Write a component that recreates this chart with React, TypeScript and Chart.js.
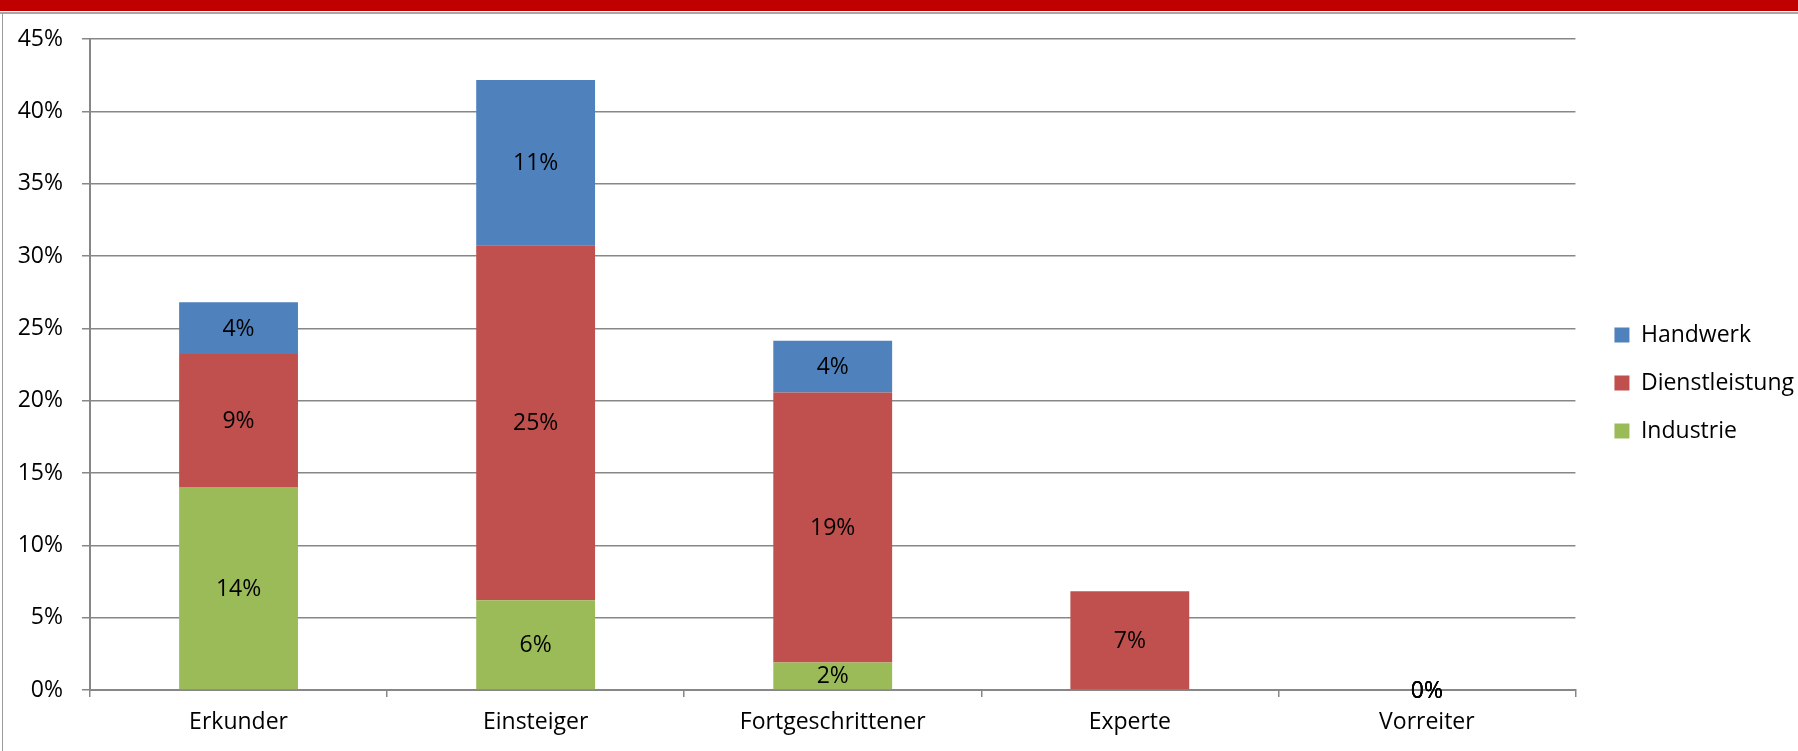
import React, { useEffect, useRef } from "react";
import { Chart, registerables } from "chart.js";

Chart.register(...registerables);

const categories = ["Erkunder", "Einsteiger", "Fortgeschrittener", "Experte", "Vorreiter"];
const industrie: (number | null)[] = [14.03, 6.2, 1.9, null, 0];
const dienstleistung: (number | null)[] = [9.19, 24.55, 18.67, 6.83, 0];
const handwerk: (number | null)[] = [3.58, 11.41, 3.57, null, 0];
const yTicks = [0, 5, 10, 15, 20, 25, 30, 35, 40, 45];

const FONT = "'Open Sans', 'Noto Sans', sans-serif";
const FS = 23;

const dataLabels = {
  id: "dataLabels",
  afterDatasetsDraw(chart: any) {
    const ctx = chart.ctx;
    ctx.save();
    ctx.font = `${FS}px ${FONT}`;
    ctx.fillStyle = "#000000";
    ctx.textAlign = "center";
    ctx.textBaseline = "middle";
    chart.data.datasets.forEach((ds: any, di: number) => {
      const meta = chart.getDatasetMeta(di);
      meta.data.forEach((el: any, i: number) => {
        const v = ds.data[i];
        if (v === null || v === undefined) return;
        const { x, y, base } = el.getProps(["x", "y", "base"], true);
        ctx.fillText(Math.round(v) + "%", x, (y + base) / 2 + 1);
      });
    });
    ctx.restore();
  },
};

export default function App() {
  const ref = useRef<HTMLCanvasElement | null>(null);

  useEffect(() => {
    document.body.style.margin = "0";
    document.body.style.overflow = "hidden";
    if (!ref.current) return;
    const chart = new Chart(ref.current, {
      type: "bar",
      data: {
        labels: categories,
        datasets: [
          { label: "Industrie", data: industrie, backgroundColor: "#9BBB59" },
          { label: "Dienstleistung", data: dienstleistung, backgroundColor: "#C0504D" },
          { label: "Handwerk", data: handwerk, backgroundColor: "#4F81BD" },
        ],
      },
      options: {
        responsive: false,
        animation: false,
        devicePixelRatio: 1,
        layout: { padding: { top: 1, bottom: 0, left: 0, right: -6 } },
        datasets: {
          bar: { categoryPercentage: 1, barPercentage: 0.4 },
        },
        plugins: {
          tooltip: { enabled: false },
          legend: {
            position: "right",
            reverse: true,
            labels: {
              boxWidth: 15,
              boxHeight: 15,
              padding: 25,
              color: "#000000",
              font: { family: FONT, size: FS },
            },
          },
        },
        scales: {
          x: {
            stacked: true,
            grid: {
              drawOnChartArea: false,
              drawTicks: true,
              tickLength: 7,
              color: "#878787",
              lineWidth: 1.5,
              offset: true,
            },
            border: { color: "#878787", width: 2 },
            ticks: {
              color: "#000000",
              font: { family: FONT, size: FS },
              padding: 12,
              maxRotation: 0,
            },
            afterFit: (s: any) => {
              s.height = 61;
            },
          },
          x2: {
            type: "category",
            position: "top",
            display: true,
            grid: { display: false },
            border: { display: false },
            ticks: { display: false },
            afterFit: (s: any) => {
              s.height = 24;
            },
          },
          y: {
            stacked: true,
            min: 0,
            max: 45,
            afterBuildTicks: (s: any) => {
              s.ticks = yTicks.map((v) => ({ value: v }));
            },
            grid: {
              color: "#878787",
              lineWidth: 1.5,
              drawTicks: true,
              tickLength: 8,
            },
            border: { color: "#878787", width: 2 },
            ticks: {
              color: "#000000",
              font: { family: FONT, size: FS },
              padding: 19,
              callback: (v: any) => v + "%",
            },
            afterFit: (s: any) => {
              s.width = 90;
              s.paddingTop = 0;
              s.paddingBottom = 0;
            },
          },
          y2: {
            position: "right",
            display: true,
            grid: { display: false },
            border: { display: false },
            ticks: { display: false },
            afterFit: (s: any) => {
              s.width = 14;
              s.paddingTop = 0;
              s.paddingBottom = 0;
            },
          },
        },
      },
      plugins: [dataLabels],
    });
    return () => chart.destroy();
  }, []);

  return (
    <div style={{ position: "relative", width: 1798, height: 751, background: "#ffffff", overflow: "hidden" }}>
      <div style={{ position: "absolute", left: 0, top: 0, width: 1798, height: 11, background: "#C00000" }} />
      <div style={{ position: "absolute", left: 0, top: 12, width: 1798, height: 2, background: "#a6a6a6" }} />
      <canvas
        ref={ref}
        width={1798}
        height={737}
        style={{ position: "absolute", left: 0, top: 14, display: "block" }}
      />
      <div style={{ position: "absolute", left: 2, top: 13, width: 1, height: 738, background: "#9a9a9a" }} />
    </div>
  );
}
